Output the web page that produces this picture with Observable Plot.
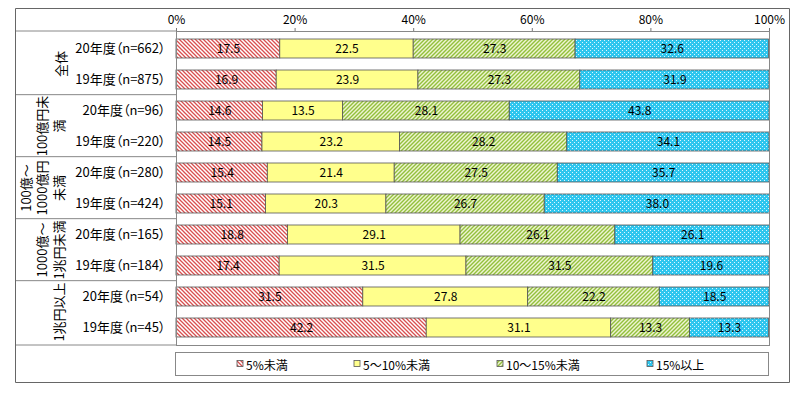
<!DOCTYPE html>
<html><head><meta charset="utf-8">
<script src="https://cdn.jsdelivr.net/npm/d3@7"></script>
<script src="https://cdn.jsdelivr.net/npm/@observablehq/plot@0.6"></script>
<style>
html,body{margin:0;padding:0;background:#fff;overflow:hidden;}
</style></head><body><div id="chart"></div>
<script>
// ---- data ----
const groups = ["全体","100億円未満","100億～1000億円未満","1000億～1兆円未満","1兆円以上"];
const groupLines = [["全体"],["100億円未","満"],["100億～","1000億円","未満"],["1000億～","1兆円未満"],["1兆円以上"]];
const years = ["20年度","19年度"];
const sampleSizes = [662,875,96,220,280,424,165,184,54,45];
const categories = ["5%未満","5～10%未満","10～15%未満","15%以上"];
const under5     = [17.5,16.9,14.6,14.5,15.4,15.1,18.8,17.4,31.5,42.2];
const from5to10  = [22.5,23.9,13.5,23.2,21.4,20.3,29.1,31.5,27.8,31.1];
const from10to15 = [27.3,27.3,28.1,28.2,27.5,26.7,26.1,31.5,22.2,13.3];
const over15     = [32.6,31.9,43.8,34.1,35.7,38.0,26.1,19.6,18.5,13.3];
const xTicks = [0,20,40,60,80,100];

const series = [under5, from5to10, from10to15, over15];
const rowKeys = sampleSizes.map((n,i)=> groups[Math.floor(i/2)] + "|" + years[i%2] + "（n=" + n + "）");
const data = [];
rowKeys.forEach((k,i)=> categories.forEach((c,j)=> data.push({key:k, cat:c, value:series[j][i]})));
const patternIds = ["p-red","p-yellow","p-green","p-cyan"];

const W = 800, H = 398;
const plot = Plot.plot({
  width: W, height: H,
  marginLeft: 176, marginRight: 31, marginTop: 31, marginBottom: 53,
  style: {fontFamily: '"Noto Sans CJK JP","Noto Sans",sans-serif', fontSize: "12px", background: "#fff"},
  x: {domain:[0,100], label: null},
  y: {domain: rowKeys, paddingInner: 0.4, paddingOuter: 0.2, label: null},
  color: {type:"ordinal", domain: categories, range: patternIds.map(id=>`url(#${id})`)},
  marks: [
    Plot.axisX({anchor:"top", ticks: xTicks, tickFormat: d=>d+"%", tickSize:4, tickPadding:4, fontSize:12, fill:"#000", stroke:"#777", label: null}),
    Plot.axisY({tickSize:0, tickPadding:11, tickFormat: k=>k.split("|")[1], fontSize:13, fill:"#000", label: null}),
    Plot.barX(data, Plot.stackX({x:"value", y:"key", fill:"cat", stroke:"#555", strokeWidth:0.8})),
    Plot.text(data, Plot.stackX({x:"value", y:"key", text: d=>d.value.toFixed(1), fontSize:12, fill:"#000", ariaLabel:"seglabels"})),
    Plot.frame({stroke:"#888"})
  ]
});
plot.style.fontFeatureSettings = '"palt"';
document.getElementById("chart").appendChild(plot);

const svg = d3.select(plot);
// patterns
const defs = svg.insert("defs", ":first-child");
let p = defs.append("pattern").attr("id","p-red").attr("patternUnits","userSpaceOnUse").attr("width",4).attr("height",4);
p.append("rect").attr("width",4).attr("height",4).attr("fill","#fff");
p.append("path").attr("d","M-1,3 l2,2 M0,0 l4,4 M3,-1 l2,2").attr("stroke","#D94F4F").attr("stroke-width",1.3);
p = defs.append("pattern").attr("id","p-yellow").attr("patternUnits","userSpaceOnUse").attr("width",4).attr("height",4);
p.append("rect").attr("width",4).attr("height",4).attr("fill","#FFFF8C");
p = defs.append("pattern").attr("id","p-green").attr("patternUnits","userSpaceOnUse").attr("width",4).attr("height",4);
p.append("rect").attr("width",4).attr("height",4).attr("fill","#EEF4D2");
p.append("path").attr("d","M-1,1 l2,-2 M0,4 l4,-4 M3,5 l2,-2").attr("stroke","#93C03C").attr("stroke-width",1.4);
p = defs.append("pattern").attr("id","p-cyan").attr("patternUnits","userSpaceOnUse").attr("width",4).attr("height",4);
p.append("rect").attr("width",4).attr("height",4).attr("fill","#2EC6EE");
p.append("rect").attr("x",0).attr("y",0).attr("width",1).attr("height",1).attr("fill","#DDF6FF");
p.append("rect").attr("x",2).attr("y",2).attr("width",1).attr("height",1).attr("fill","#DDF6FF");

// white boxes behind segment labels
svg.selectAll('g[aria-label="seglabels"] text').each(function(){
  const b = this.getBBox();
  d3.select(this.parentNode).insert("rect", ()=>this)
    .attr("x", b.x-1).attr("y", b.y+1.5).attr("width", b.width+2).attr("height", b.height-3).attr("fill","#fff");
});

// table lines and group labels
const ys = plot.scale("y");
const bw = ys.bandwidth;
const step = bw / (1 - 0.4);
const plotTop = 31, plotBottom = H - 53, tableLeft = 15, plotLeft = 176;
const g = svg.append("g").attr("fill","none").attr("stroke","#888");
g.append("line").attr("x1",tableLeft).attr("x2",plotLeft).attr("y1",plotTop).attr("y2",plotTop);
g.append("line").attr("x1",tableLeft).attr("x2",plotLeft).attr("y1",plotBottom).attr("y2",plotBottom);
groups.forEach((grp,gi)=>{
  const y0 = ys.apply(rowKeys[gi*2]) - 0.2*step;
  const y1 = ys.apply(rowKeys[gi*2+1]) + bw + 0.2*step;
  if (gi>0) g.append("line").attr("x1",tableLeft).attr("x2",plotLeft).attr("y1",y0).attr("y2",y0);
  const cy = (y0+y1)/2;
  const lines = groupLines[gi];
  lines.forEach((ln,li)=>{
    const cx = 58 - (lines.length-1-li)*16.5 + (gi===0 ? 2 : 0);
    svg.append("text").attr("transform",`translate(${cx},${cy}) rotate(-90)`)
      .attr("text-anchor","middle").attr("dominant-baseline","central")
      .attr("font-size",13).attr("fill","#000").text(ln);
  });
});
// legend
const lg = svg.append("g");
lg.append("rect").attr("x",175.5).attr("y",352.5).attr("width",593).attr("height",23)
  .attr("fill","#fff").attr("stroke","#888");
const legendX = [237, 354, 497, 647];
categories.forEach((c,i)=>{
  lg.append("rect").attr("x",legendX[i]).attr("y",360.5).attr("width",6).attr("height",6)
    .attr("fill",`url(#${patternIds[i]})`).attr("stroke","#555").attr("stroke-width",0.8);
  lg.append("text").attr("x",legendX[i]+9).attr("y",364).attr("dominant-baseline","central")
    .attr("text-anchor","start").attr("font-size",12).attr("fill","#000").text(c);
});
// outer border, drawn last
svg.append("path").attr("d","M15.5,8.5H789.5V382.5H15.5Z")
  .attr("fill","none").attr("stroke","#666").attr("stroke-width",1);
</script></body></html>
